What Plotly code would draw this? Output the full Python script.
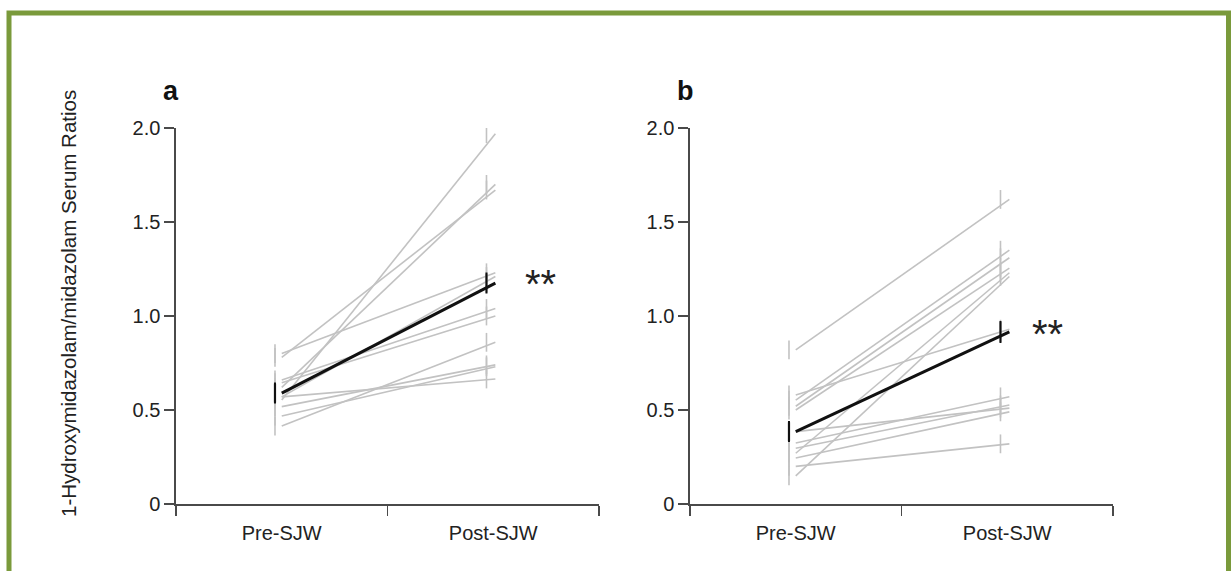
import plotly.graph_objects as go

W, H = 1231, 571

categories = ["Pre-SJW", "Post-SJW"]

# Panel a: individual subjects (pre, post) and their error bars
pre_a = [0.553, 0.62, 0.78, 0.80, 0.57, 0.66, 0.645, 0.415, 0.518, 0.468, 0.57]
post_a = [1.97, 1.70, 1.67, 1.23, 1.21, 1.04, 1.00, 0.86, 0.74, 0.73, 0.665]
pre_err_a = [0.05, 0.05, 0.05, 0.05, 0.05, 0.05, 0.05, 0.05, 0.05, 0.05, 0.05]
post_err_a = [0.05, 0.05, 0.05, 0.05, 0.05, 0.05, 0.05, 0.05, 0.05, 0.05, 0.05]
mean_a = [0.59, 1.175]
sem_a = [0.05, 0.05]

# Panel b
pre_b = [0.82, 0.58, 0.553, 0.52, 0.50, 0.385, 0.324, 0.297, 0.27, 0.245, 0.20, 0.15]
post_b = [1.62, 0.93, 1.35, 1.31, 1.255, 0.51, 0.57, 0.527, 1.23, 0.49, 0.32, 1.21]
pre_err_b = [0.05, 0.05, 0.05, 0.05, 0.05, 0.05, 0.05, 0.05, 0.05, 0.05, 0.05, 0.05]
post_err_b = [0.05, 0.05, 0.05, 0.05, 0.05, 0.05, 0.05, 0.05, 0.05, 0.05, 0.05, 0.05]
mean_b = [0.385, 0.915]
sem_b = [0.05, 0.053]

y_ticks = [0, 0.5, 1.0, 1.5, 2.0]
y_tick_labels = ["0", "0.5", "1.0", "1.5", "2.0"]

FONT = "Liberation Sans, Arial, sans-serif"
GRAY = "#c2c2c2"
AXIS = "#4a4a4a"
TXT = "#222222"
EB_OFF = 0.032  # error bars drawn slightly left of the line ends
LINE_END = 2.01

fig = go.Figure()


def add_panel(pre, post, pre_err, post_err, mean, sem, xa, ya):
    fig.add_trace(go.Scatter(
        x=[1 - EB_OFF] * len(pre) + [2 - EB_OFF] * len(post),
        y=pre + post, mode="markers",
        marker=dict(size=1, color="rgba(0,0,0,0)"),
        error_y=dict(type="data", array=pre_err + post_err, color=GRAY,
                     thickness=1.6, width=0),
        xaxis=xa, yaxis=ya, showlegend=False, hoverinfo="skip"))
    for p, q in zip(pre, post):
        fig.add_trace(go.Scatter(
            x=[1, LINE_END], y=[p, q], mode="lines",
            line=dict(color=GRAY, width=1.6),
            xaxis=xa, yaxis=ya, showlegend=False, hoverinfo="skip"))
    fig.add_trace(go.Scatter(
        x=[1 - EB_OFF, 2 - EB_OFF], y=mean, mode="markers",
        marker=dict(size=1, color="rgba(0,0,0,0)"),
        error_y=dict(type="data", array=sem, color="#111111",
                     thickness=2.2, width=1),
        xaxis=xa, yaxis=ya, showlegend=False, hoverinfo="skip"))
    fig.add_trace(go.Scatter(
        x=[1, LINE_END], y=mean, mode="lines",
        line=dict(color="#111111", width=3),
        xaxis=xa, yaxis=ya, showlegend=False, hoverinfo="skip"))


add_panel(pre_a, post_a, pre_err_a, post_err_a, mean_a, sem_a, "x", "y")
add_panel(pre_b, post_b, pre_err_b, post_err_b, mean_b, sem_b, "x2", "y2")

y_dom = [1 - 504 / H, 1 - 128 / H]
xa_dom = [176 / W, 599 / W]
xb_dom = [690 / W, 1113 / W]

xaxis_common = dict(
    range=[0.5, 2.5], tickvals=[1, 2], ticktext=categories,
    ticks="outside", ticklen=10, tickcolor="rgba(0,0,0,0)",
    showline=True, linecolor=AXIS, linewidth=1.6,
    showgrid=False, zeroline=False, automargin=False,
    tickfont=dict(family=FONT, size=20, color=TXT),
    minor=dict(tickvals=[0.5, 1.5, 2.5], ticks="outside", ticklen=10,
               tickcolor=AXIS, tickwidth=1.6, showgrid=False),
    fixedrange=True)
yaxis_common = dict(
    range=[0, 2.0], tickvals=y_ticks, ticktext=y_tick_labels,
    ticks="outside", ticklen=10, tickcolor=AXIS, tickwidth=1.6,
    showline=True, linecolor=AXIS, linewidth=1.6,
    showgrid=False, zeroline=False, automargin=False,
    tickfont=dict(family=FONT, size=20, color=TXT),
    fixedrange=True)

fig.update_layout(
    width=W, height=H, autosize=False,
    margin=dict(l=0, r=0, t=0, b=0, pad=0),
    paper_bgcolor="white", plot_bgcolor="white", showlegend=False,
    xaxis=dict(domain=xa_dom, anchor="y", **xaxis_common),
    yaxis=dict(domain=y_dom, anchor="x", **yaxis_common),
    xaxis2=dict(domain=xb_dom, anchor="y2", **xaxis_common),
    yaxis2=dict(domain=y_dom, anchor="x2", **yaxis_common),
)

annotations = [
    dict(text="1-Hydroxymidazolam/midazolam Serum Ratios", textangle=-90,
         x=68 / W, y=1 - 304 / H, xref="paper", yref="paper",
         xanchor="center", yanchor="middle",
         showarrow=False, font=dict(family=FONT, size=20.5, color=TXT)),
    dict(text="<b>a</b>", x=171 / W, y=1 - 91 / H, xref="paper", yref="paper",
         xanchor="center", yanchor="middle",
         showarrow=False, font=dict(family=FONT, size=27, color="#111111")),
    dict(text="<b>b</b>", x=685 / W, y=1 - 91 / H, xref="paper", yref="paper",
         xanchor="center", yanchor="middle",
         showarrow=False, font=dict(family=FONT, size=27, color="#111111")),
    dict(text="**", x=2.225, y=1.17, xref="x", yref="y",
         xanchor="center", yanchor="middle",
         showarrow=False, font=dict(family=FONT, size=40, color="#222222")),
    dict(text="**", x=2.19, y=0.904, xref="x2", yref="y2",
         xanchor="center", yanchor="middle",
         showarrow=False, font=dict(family=FONT, size=40, color="#222222")),
]
fig.update_layout(annotations=annotations)

# green frame
fig.add_shape(type="rect", xref="paper", yref="paper",
              x0=9 / W, x1=1228.5 / W, y0=-0.1, y1=1 - 13 / H,
              line=dict(color="#7a9a3b", width=5), fillcolor="rgba(0,0,0,0)",
              layer="above")

fig.write_html("out.html",
               config={"displayModeBar": False, "staticPlot": True},
               post_script="document.body.style.margin='0';"
                           "document.body.style.overflow='hidden';")
